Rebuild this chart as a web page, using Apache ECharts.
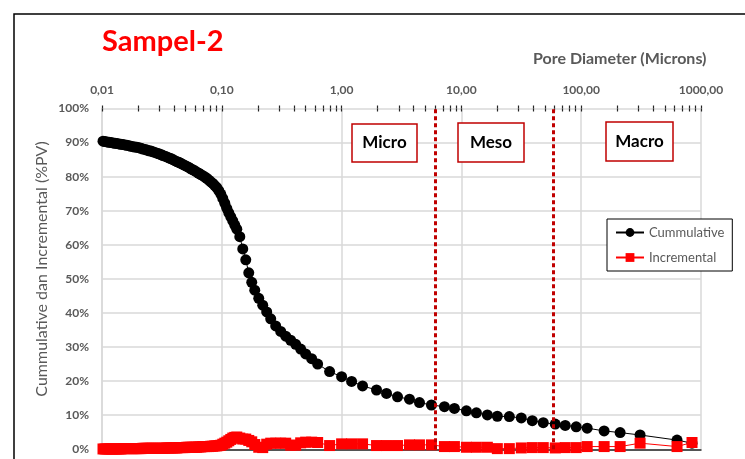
<!DOCTYPE html>
<html>
<head>
<meta charset="utf-8">
<script src="https://cdn.jsdelivr.net/npm/echarts@6/dist/echarts.min.js"></script>
<style>html,body{margin:0;padding:0;background:#fff;}#c{width:745px;height:459px;}</style>
</head>
<body>
<div id="c"></div>
<script>
// Pore diameter (microns)
const diameters = [
  0.010194,0.010593,0.011007,0.011438,0.011885,0.012350,0.012833,0.013335,0.013857,0.014399,
  0.014962,0.015548,0.016156,0.016788,0.017445,0.018127,0.018836,0.019573,0.020339,0.021135,
  0.021962,0.022821,0.023714,0.024641,0.025605,0.026607,0.027648,0.028730,0.029854,0.031022,
  0.032235,0.033497,0.034807,0.036169,0.037584,0.039054,0.040582,0.042170,0.043819,0.045534,
  0.047315,0.049166,0.051090,0.053088,0.055165,0.057324,0.059566,0.061897,0.064318,0.066834,
  0.069449,0.072166,0.074989,0.077923,0.080972,0.084140,0.087431,0.090852,0.094406,0.098100,
  0.10194,0.10593,0.11007,0.11438,0.11885,0.12350,0.12833,
  0.1334,0.1413,0.1496,0.1585,0.1679,0.1778,0.1884,
  0.2034,0.2196,0.2371,0.2560,
  0.2818,0.3102,0.3415,0.3758,0.4137,0.4554,0.5012,0.5623,0.6310,
  0.7943,1.000,1.212,1.496,1.957,2.371,2.929,3.687,4.467,5.623,7.217,8.744,11.01,13.34,
  16.47,19.95,25.12,31.62,39.06,48.23,60.73,73.56,90.86,112.2,155.4,211.3,310.1,631.0,841.4
];
// Cumulative (%PV)
const cumulative = [
  90.4,90.3,90.2,90.1,90.0,89.9,89.8,89.7,89.6,89.5,
  89.4,89.3,89.2,89.1,88.9,88.8,88.7,88.6,88.5,88.3,
  88.1,88.0,87.8,87.6,87.5,87.3,87.1,86.9,86.7,86.5,
  86.2,86.0,85.8,85.5,85.3,85.0,84.7,84.4,84.2,83.9,
  83.6,83.3,83.0,82.7,82.3,82.0,81.7,81.3,81.0,80.6,
  80.3,79.9,79.5,79.0,78.5,78.0,77.4,76.8,75.9,74.9,
  73.6,72.2,70.7,69.4,68.2,67.0,65.8,
  64.6,62.4,58.8,55.6,51.8,49.0,46.7,
  44.3,42.3,40.3,38.3,
  36.2,34.6,33.2,32.0,30.8,29.4,28.0,26.6,25.0,
  22.8,21.3,19.9,18.6,17.4,16.4,15.4,14.7,13.7,13.0,12.5,12.0,11.3,10.7,
  10.1,9.7,9.6,9.2,8.4,7.8,7.4,7.0,6.6,6.2,5.4,4.9,4.2,2.7,1.8
];
// Incremental (%PV)
const incremental = [
  0.1,0.1,0.1,0.1,0.1,0.1,0.1,0.1,0.1,0.1,
  0.2,0.2,0.2,0.2,0.2,0.2,0.2,0.2,0.2,0.2,
  0.3,0.3,0.3,0.3,0.3,0.3,0.3,0.3,0.3,0.3,
  0.3,0.3,0.4,0.4,0.4,0.4,0.4,0.4,0.5,0.5,
  0.5,0.5,0.6,0.6,0.6,0.6,0.6,0.6,0.7,0.7,
  0.8,0.8,0.8,0.8,0.9,0.9,1.0,1.0,1.1,1.2,
  1.5,1.8,2.1,2.5,2.9,3.3,3.5,
  3.6,3.3,3.0,3.0,2.6,2.2,1.4,
  0.6,0.5,1.5,1.8,
  1.8,1.8,1.8,1.2,1.2,1.9,2.1,2.1,2.0,
  1.1,1.6,1.6,1.6,1.1,1.1,1.1,1.3,1.3,1.3,0.8,0.8,0.6,0.6,
  0.6,0.2,0.2,0.4,0.5,0.5,0.4,0.5,0.5,0.8,0.8,0.8,1.8,0.8,2.0
];
// Axis ticks
const xDecades = [0.01, 0.1, 1, 10, 100, 1000];
const xMinorSteps = [1,2,3,4,5,6,7,8,9];
const yTicks = [0,10,20,30,40,50,60,70,80,90,100];
// Region boundaries (microns)
const boundaries = [6, 58];
const regionLabels = ['Micro', 'Meso', 'Macro'];

const allTicks = [];
xDecades.forEach((d, i) => {
  if (i < xDecades.length - 1) xMinorSteps.forEach(s => allTicks.push(+(d * s).toPrecision(6)));
  else allTicks.push(d);
});

const FONT = 'Lato';
const GRAY = '#595959';
const cumData = diameters.map((d, i) => [d, cumulative[i]]);
const incData = diameters.map((d, i) => [d, incremental[i]]);

function tickAxis(inside) {
  return {
    type: 'log', logBase: 10, min: 0.01, max: 1000, position: 'top',
    axisLine: { show: false },
    axisLabel: { show: false },
    splitLine: { show: false },
    axisTick: { show: true, inside: inside, length: 3, customValues: allTicks,
      lineStyle: { color: '#262626', width: 1.2 } }
  };
}

function regionBox(x, y, w, h, text) {
  return {
    type: 'group', x: x, y: y, z: 100,
    children: [
      { type: 'rect', z: 100, shape: { x: 0, y: 0, width: w, height: h },
        style: { fill: '#fff', stroke: '#c00000', lineWidth: 1.5 } },
      { type: 'text', z: 101, x: w / 2, y: h / 2,
        style: { text: text, fill: '#000', font: 'bold 17px ' + FONT, align: 'center', verticalAlign: 'middle' } }
    ]
  };
}

const chart = echarts.init(document.getElementById('c'), null, { renderer: 'canvas' });
chart.setOption({
  animation: false,
  backgroundColor: '#fff',
  textStyle: { fontFamily: FONT },
  title: [
    { text: 'Sampel-2', left: 97, top: 22,
      textStyle: { color: '#ff0000', fontSize: 29, fontWeight: 'bold', fontFamily: FONT } },
    { text: 'Pore Diameter (Microns)', left: 528, top: 46,
      textStyle: { color: GRAY, fontSize: 16, fontWeight: 'bold', fontFamily: FONT } }
  ],
  grid: { left: 102, right: 44, top: 108.5, bottom: 9.7 },
  legend: {
    orient: 'vertical', left: 607, top: 219,
    padding: [7, 8, 7, 8], itemGap: 12, itemWidth: 28, itemHeight: 11,
    backgroundColor: '#fff', borderColor: '#000', borderWidth: 1, borderRadius: 0,
    textStyle: { color: GRAY, fontSize: 13, fontFamily: FONT },
    data: ['Cummulative', 'Incremental']
  },
  xAxis: [
    {
      type: 'log', logBase: 10, min: 0.01, max: 1000, position: 'top',
      axisLine: { show: true, lineStyle: { color: '#262626', width: 1.5 } },
      axisTick: { show: false },
      axisLabel: { show: true, margin: 12, color: GRAY, fontSize: 12, fontWeight: 'bold', fontFamily: FONT,
        customValues: xDecades,
        formatter: v => Number(v).toFixed(2).replace('.', ',') },
      splitLine: { show: true, lineStyle: { color: '#d9d9d9', width: 1.5 } }
    },
    tickAxis(false),
    tickAxis(true)
  ],
  yAxis: {
    type: 'value', min: 0, max: 100, interval: 10,
    axisLine: { show: true, lineStyle: { color: '#d9d9d9', width: 1.5 } },
    axisTick: { show: false },
    axisLabel: { margin: 13, color: GRAY, fontSize: 12, fontWeight: 'bold', fontFamily: FONT,
      customValues: yTicks, formatter: '{value}%' },
    splitLine: { show: true, lineStyle: { color: '#d9d9d9', width: 1.5 } }
  },
  series: [
    {
      name: 'Cummulative', type: 'line', xAxisIndex: 0, data: cumData,
      symbol: 'circle', symbolSize: 11, silent: true,
      itemStyle: { color: '#000' }, lineStyle: { color: '#000', width: 1 },
      markLine: {
        silent: true, symbol: 'none', label: { show: false },
        lineStyle: { color: '#c00000', width: 3, type: [4, 3] },
        data: boundaries.map(b => ({ xAxis: b }))
      },
      z: 3
    },
    {
      name: 'Incremental', type: 'line', xAxisIndex: 0, data: incData,
      symbol: 'rect', symbolSize: 11, silent: true,
      itemStyle: { color: '#ff0000' }, lineStyle: { color: '#ff0000', width: 1 },
      z: 4
    }
  ],
  graphic: [
    { type: 'rect', shape: { x: 14, y: 14, width: 800, height: 500 }, z: -10, silent: true,
      style: { fill: 'none', stroke: '#000', lineWidth: 1.5 } },
    { type: 'text', x: 42, y: 269, rotation: Math.PI / 2, silent: true,
      style: { text: 'Cummulative dan Incremental (%PV)', fill: GRAY, font: '16px ' + FONT,
        align: 'center', verticalAlign: 'middle' } },
    regionBox(352, 124, 65, 38, regionLabels[0]),
    regionBox(458, 123, 66, 39, regionLabels[1]),
    regionBox(606, 122, 67, 39, regionLabels[2])
  ]
});
</script>
</body>
</html>
